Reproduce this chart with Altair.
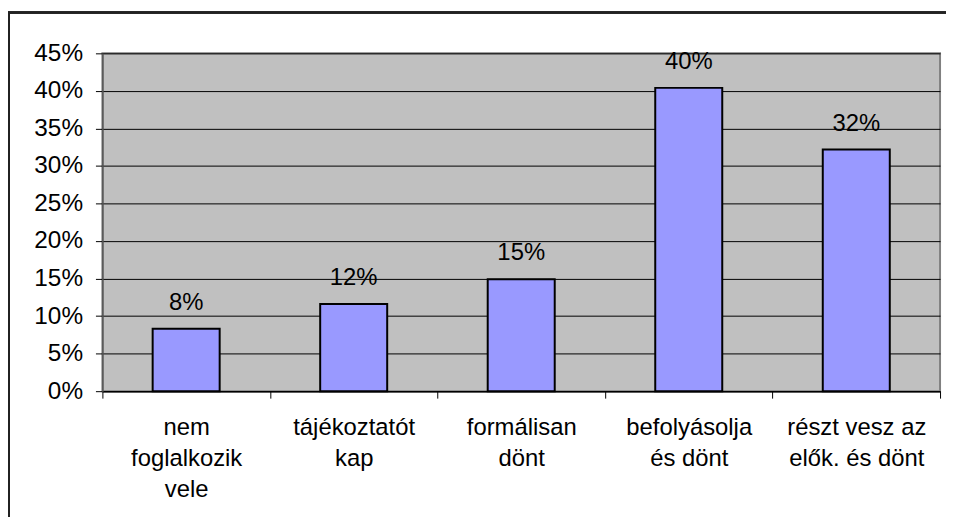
import altair as alt
import pandas as pd

categories = [
    "nem\nfoglalkozik\nvele",
    "tájékoztatót\nkap",
    "formálisan\ndönt",
    "befolyásolja\nés dönt",
    "részt vesz az\nelők. és dönt",
]
values = [0.083, 0.116, 0.149, 0.404, 0.322]
y_ticks = [0, 0.05, 0.10, 0.15, 0.20, 0.25, 0.30, 0.35, 0.40, 0.45]

df = pd.DataFrame({"cat": categories, "val": values})

FONT = "Liberation Sans"

x_enc = alt.X(
    "cat:N",
    sort=None,
    title=None,
    scale=alt.Scale(paddingInner=0, paddingOuter=0),
    axis=alt.Axis(
        labelAngle=0,
        labelExpr="split(datum.label, '\\n')",
        labelFont=FONT,
        labelFontSize=24,
        labelLineHeight=31,
        labelColor="black",
        labelPadding=18,
        labelBaseline="top",
        labelOverlap=False,
        tickBand="extent",
        tickSize=7,
        tickColor="black",
        domainColor="black",
        domainWidth=1.5,
        grid=False,
    ),
)

y_enc = alt.Y(
    "val:Q",
    title=None,
    scale=alt.Scale(domain=[0, 0.45], nice=False, zero=True),
    axis=alt.Axis(
        values=y_ticks,
        format=".0%",
        labelFont=FONT,
        labelFontSize=24.5,
        labelColor="black",
        labelPadding=13,
        labelOverlap=False,
        labelFlush=False,
        tickSize=7,
        tickColor="black",
        domainColor="#555555",
        domainWidth=1.5,
        grid=True,
        gridColor="black",
        gridWidth=1,
        gridOpacity=1,
    ),
)

frame = alt.Chart(df).mark_rect(
    fill=None, stroke="#222222", strokeWidth=2, clip=False
).encode(
    x=alt.value(-94), x2=alt.value(1100), y=alt.value(-41), y2=alt.value(700)
)

bars = alt.Chart(df).mark_bar(
    color="#9999FF", stroke="black", strokeWidth=2,
    width=alt.RelativeBandSize(0.4),
).encode(x=x_enc, y=y_enc)

labels = alt.Chart(df).mark_text(
    font=FONT, fontSize=24, color="black", baseline="alphabetic", dy=-19
).encode(
    x=x_enc,
    y=y_enc,
    text=alt.Text("val:Q", format=".0%"),
)

chart = alt.layer(frame, bars, labels).properties(
    width=843,
    height=340,
    padding={"left": 95, "top": 44, "right": 6, "bottom": 125},
    autosize="none",
    background="white",
).configure_view(
    fill="#C0C0C0", stroke="#808080", strokeWidth=2
)

chart.save("out.html", embed_options={"renderer": "svg", "actions": False})
